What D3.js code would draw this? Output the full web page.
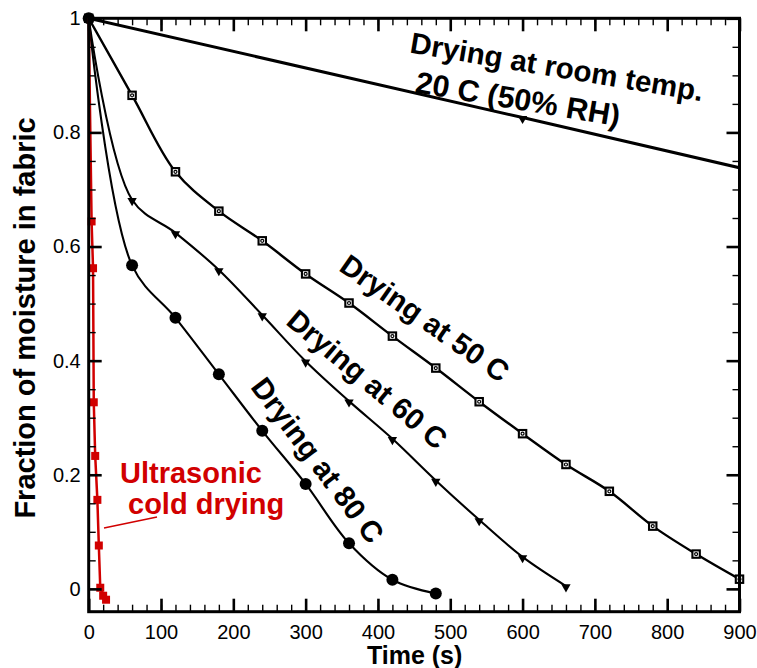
<!DOCTYPE html>
<html>
<head>
<meta charset="utf-8">
<script src="https://cdn.jsdelivr.net/npm/d3@7"></script>
<style>
  body { margin: 0; background: #fff; }
  svg { display: block; }
  text { font-family: "Liberation Sans", Arial, Helvetica, sans-serif; }
</style>
</head>
<body>
<svg id="chart" width="757" height="668"></svg>
<script>
// Moisture fraction remaining in fabric vs. drying time, per drying method
const timeRoom = [0, 600, 1200];
const moistRoom = [1, 0.826, 0.65];

const time50 = [0, 60, 120, 180, 240, 300, 360, 420, 480, 540, 600, 660, 720, 780, 840, 900];
const moist50 = [1, 0.865, 0.731, 0.662, 0.610, 0.552, 0.501, 0.443, 0.387, 0.328, 0.272, 0.218, 0.171, 0.110, 0.061, 0.017];

const time60 = [0, 60, 120, 180, 240, 300, 360, 420, 480, 540, 600, 660];
const moist60 = [1, 0.682, 0.624, 0.559, 0.480, 0.399, 0.329, 0.263, 0.190, 0.121, 0.056, 0.005];

const time80 = [0, 60, 120, 180, 240, 300, 360, 420, 480];
const moist80 = [1, 0.567, 0.475, 0.376, 0.277, 0.184, 0.080, 0.016, -0.008];

const timeUltra = [0, 4, 6, 7, 9, 12, 14, 16, 20, 24];
const moistUltra = [1, 0.644, 0.562, 0.327, 0.233, 0.156, 0.076, 0.002, -0.012, -0.019];

const xTickLabels = [0, 100, 200, 300, 400, 500, 600, 700, 800, 900];
const yTickLabels = [0, 0.2, 0.4, 0.6, 0.8, 1];
const xMinorTicks = d3.range(0, 901, 20);
const yMinorTicks = d3.range(0, 21).map(i => i * 0.05);

const RED = "#d10000";

const svg = d3.select("#chart");
const plotLeft = 88.7, plotTop = 18.3, plotRight = 739.5, plotBottom = 611.7;

const x = d3.scaleLinear().domain([0, 900]).range([plotLeft, plotRight]);
const y = d3.scaleLinear().domain([-0.04, 1]).range([plotBottom, plotTop]);

svg.append("rect").attr("width", 757).attr("height", 668).attr("fill", "#fff");

svg.append("defs").append("clipPath").attr("id", "plotClip")
  .append("rect").attr("x", plotLeft).attr("y", plotTop)
  .attr("width", plotRight - plotLeft).attr("height", plotBottom - plotTop);

const zip = (ts, vs) => ts.map((t, i) => ({ t, v: vs[i] }));
const series = {
  room: zip(timeRoom, moistRoom),
  c50: zip(time50, moist50),
  c60: zip(time60, moist60),
  c80: zip(time80, moist80),
  ultra: zip(timeUltra, moistUltra)
};

const lineLinear = d3.line().x(d => x(d.t)).y(d => y(d.v));
const lineSmooth = d3.line().x(d => x(d.t)).y(d => y(d.v)).curve(d3.curveCatmullRom.alpha(0.5));

const lines = svg.append("g").attr("clip-path", "url(#plotClip)");
lines.append("path").datum(series.room).attr("d", lineLinear)
  .attr("fill", "none").attr("stroke", "#000").attr("stroke-width", 3);
lines.append("path").datum(series.c50).attr("d", lineSmooth)
  .attr("fill", "none").attr("stroke", "#000").attr("stroke-width", 2.4);
lines.append("path").datum(series.c60).attr("d", lineSmooth)
  .attr("fill", "none").attr("stroke", "#000").attr("stroke-width", 2.1);
lines.append("path").datum(series.c80).attr("d", lineSmooth)
  .attr("fill", "none").attr("stroke", "#000").attr("stroke-width", 2.1);

const inDomain = d => d.t <= 900;

// triangle markers (room temperature, 60 C)
const tri = d3.symbol().type(d3.symbolTriangle).size(38);
svg.append("g").selectAll("path.tri")
  .data(series.room.filter(inDomain).concat(series.c60))
  .join("path")
  .attr("d", tri)
  .attr("transform", d => `translate(${x(d.t)},${y(d.v) + 1}) rotate(180)`)
  .attr("fill", "#000");

// square-with-ring markers (50 C)
const sq = svg.append("g").selectAll("g").data(series.c50).join("g")
  .attr("transform", d => `translate(${x(d.t)},${y(d.v)})`);
sq.append("rect").attr("x", -3.7).attr("y", -3.7).attr("width", 7.4).attr("height", 7.4)
  .attr("fill", "#fff").attr("stroke", "#000").attr("stroke-width", 2.1);
sq.append("circle").attr("r", 1.5).attr("fill", "none").attr("stroke", "#000").attr("stroke-width", 1.2);

// filled circles (80 C)
svg.append("g").selectAll("circle").data(series.c80).join("circle")
  .attr("cx", d => x(d.t)).attr("cy", d => y(d.v)).attr("r", 6).attr("fill", "#000");

// ultrasonic cold drying
svg.append("path").datum(series.ultra).attr("d", lineLinear)
  .attr("fill", "none").attr("stroke", RED).attr("stroke-width", 2.5);
svg.append("g").selectAll("rect").data(series.ultra.slice(1)).join("rect")
  .attr("x", d => x(d.t) - 4).attr("y", d => y(d.v) - 4)
  .attr("width", 8).attr("height", 8).attr("fill", RED);

// axes with inward ticks on all four sides
const fmtY = d => d3.format("~g")(d);
function styleAxis(g, major) {
  g.select(".domain").remove();
  g.selectAll(".tick line").attr("stroke", "#000").attr("stroke-width", major ? 2.6 : 1.4);
  g.selectAll(".tick text").attr("font-size", 20).attr("fill", "#000")
    .attr("font-family", "'Liberation Sans', Arial, sans-serif");
}

svg.append("g").attr("transform", `translate(0,${plotBottom})`)
  .call(d3.axisBottom(x).tickValues(xMinorTicks).tickSize(-7).tickFormat(""))
  .call(g => styleAxis(g, false));
svg.append("g").attr("transform", `translate(0,${plotBottom})`)
  .call(d3.axisBottom(x).tickValues(xTickLabels).tickSize(-13).tickPadding(13).tickFormat(d3.format("d")))
  .call(g => styleAxis(g, true));
svg.append("g").attr("transform", `translate(0,${plotTop})`)
  .call(d3.axisTop(x).tickValues(xMinorTicks).tickSize(-7).tickFormat(""))
  .call(g => styleAxis(g, false));
svg.append("g").attr("transform", `translate(0,${plotTop})`)
  .call(d3.axisTop(x).tickValues(xTickLabels).tickSize(-13).tickFormat(""))
  .call(g => styleAxis(g, true));

svg.append("g").attr("transform", `translate(${plotLeft},0)`)
  .call(d3.axisLeft(y).tickValues(yMinorTicks).tickSize(-7).tickFormat(""))
  .call(g => styleAxis(g, false));
svg.append("g").attr("transform", `translate(${plotLeft},0)`)
  .call(d3.axisLeft(y).tickValues(yTickLabels).tickSize(-13).tickPadding(8).tickFormat(fmtY))
  .call(g => styleAxis(g, true));
svg.append("g").attr("transform", `translate(${plotRight},0)`)
  .call(d3.axisRight(y).tickValues(yMinorTicks).tickSize(-7).tickFormat(""))
  .call(g => styleAxis(g, false));
svg.append("g").attr("transform", `translate(${plotRight},0)`)
  .call(d3.axisRight(y).tickValues(yTickLabels).tickSize(-13).tickFormat(""))
  .call(g => styleAxis(g, true));

svg.append("rect").attr("x", plotLeft).attr("y", plotTop)
  .attr("width", plotRight - plotLeft).attr("height", plotBottom - plotTop)
  .attr("fill", "none").attr("stroke", "#000").attr("stroke-width", 3);

// axis titles
svg.append("text").attr("x", (plotLeft + plotRight) / 2 + 0.5).attr("y", 664)
  .attr("text-anchor", "middle").attr("font-size", 25).attr("font-weight", "bold")
  .text("Time (s)");
svg.append("text").attr("transform", "translate(35,318) rotate(-90)")
  .attr("text-anchor", "middle").attr("font-size", 29).attr("font-weight", "bold")
  .text("Fraction of moisture in fabric");

// curve annotations
const notes = [
  { text: "Drying at room temp.", cx: 557, cy: 66.5, angle: 9.5, size: 29.5 },
  { text: "20 C (50% RH)", cx: 518, cy: 98.5, angle: 9.5, size: 30.5 },
  { text: "Drying at 50 C", cx: 425, cy: 318, angle: 35, size: 29.5 },
  { text: "Drying at 60 C", cx: 367.5, cy: 379, angle: 40, size: 29.5 },
  { text: "Drying at 80 C", cx: 318, cy: 460, angle: 53, size: 29.5 }
];
svg.append("g").selectAll("text").data(notes).join("text")
  .attr("transform", d => `translate(${d.cx},${d.cy}) rotate(${d.angle})`)
  .attr("dy", "0.36em").attr("text-anchor", "middle")
  .attr("font-size", d => d.size).attr("font-weight", "bold").attr("fill", "#000")
  .text(d => d.text);

svg.append("text").attr("x", 120).attr("y", 483).attr("font-size", 29)
  .attr("font-weight", "bold").attr("fill", RED).text("Ultrasonic");
svg.append("text").attr("x", 128).attr("y", 514).attr("font-size", 29)
  .attr("font-weight", "bold").attr("fill", RED).text("cold drying");
svg.append("line").attr("x1", 104).attr("y1", 528).attr("x2", 157).attr("y2", 517)
  .attr("stroke", RED).attr("stroke-width", 1.5);
</script>
</body>
</html>
